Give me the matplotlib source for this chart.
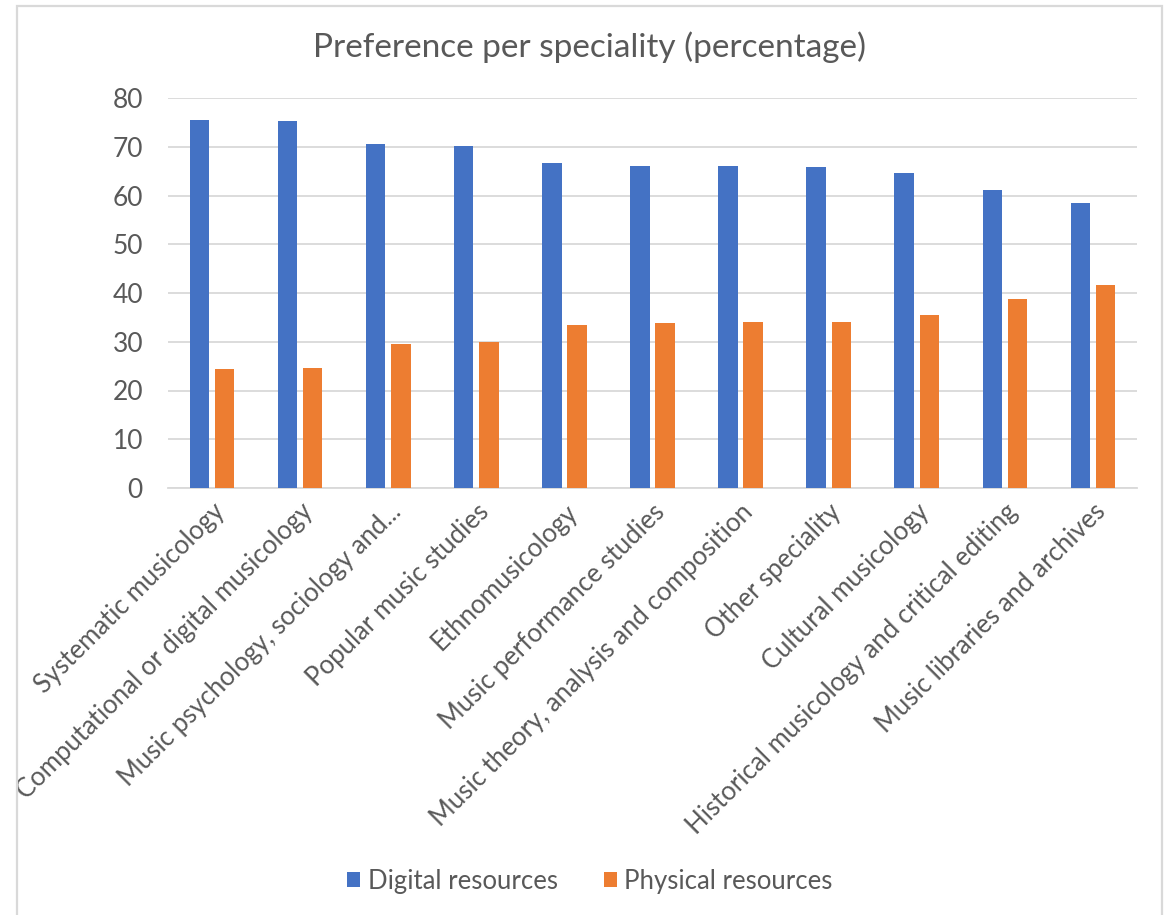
import numpy as np
import matplotlib.pyplot as plt
from matplotlib.patches import Rectangle

specialities = [
    'Systematic musicology',
    'Computational or digital musicology',
    'Music psychology, sociology and...',
    'Popular music studies',
    'Ethnomusicology',
    'Music performance studies',
    'Music theory, analysis and composition',
    'Other speciality',
    'Cultural musicology',
    'Historical musicology and critical editing',
    'Music libraries and archives',
]
digital = [75.5, 75.3, 70.5, 70.1, 66.6, 66.1, 66.0, 65.9, 64.6, 61.2, 58.4]
physical = [24.5, 24.7, 29.5, 29.9, 33.4, 33.9, 34.0, 34.1, 35.4, 38.8, 41.6]
y_ticks = [0, 10, 20, 30, 40, 50, 60, 70, 80]

BLUE = '#4472C4'
ORANGE = '#ED7D31'
TEXT = '#595959'
GRID = '#D9D9D9'

plt.rcParams['font.family'] = ['Lato', 'DejaVu Sans']

fig = plt.figure(figsize=(11.69, 9.15), dpi=100)
W, H = 1169, 915
ax = fig.add_axes([168 / W, 1 - 488 / H, (1137 - 168) / W, (488 - 98) / H])

# light frame round the whole chart area
fig.patches.append(Rectangle((17 / W, -0.01), (1162 - 17) / W, (1 - 6 / H) + 0.01,
                             transform=fig.transFigure, fill=False,
                             edgecolor=GRID, linewidth=1.6))

x = np.arange(len(specialities))
width = 0.22
offset = 0.143
ax.bar(x - offset, digital, width, color=BLUE, label='Digital resources', zorder=3)
ax.bar(x + offset, physical, width, color=ORANGE, label='Physical resources', zorder=3)

ax.set_xlim(-0.5, len(specialities) - 0.5)
ax.set_ylim(0, 80)
ax.set_yticks(y_ticks)
ax.yaxis.grid(True, color=GRID, linewidth=1.3, zorder=0)
for side in ['top', 'right', 'left']:
    ax.spines[side].set_visible(False)
ax.spines['bottom'].set_color(GRID)
ax.spines['bottom'].set_linewidth(1.3)
ax.tick_params(axis='y', length=0, pad=18, labelsize=19, labelcolor=TEXT)
ax.tick_params(axis='x', length=0, pad=8, labelsize=18.5, labelcolor=TEXT)
ax.set_xticks(x)
ax.set_xticklabels(specialities, rotation=45, ha='right', va='top',
                   rotation_mode='anchor')

fig.text(589.5 / W, 1 - 47 / H, 'Preference per speciality (percentage)',
         ha='center', va='center', fontsize=24, color=TEXT)

fig.legend(loc='center', bbox_to_anchor=(590 / W, 1 - 881 / H), ncol=2,
           frameon=False, fontsize=18.5, handlelength=0.5, handleheight=0.5,
           handletextpad=0.3, columnspacing=1.8, labelcolor=TEXT)

fig.savefig('out.png', dpi=100)
